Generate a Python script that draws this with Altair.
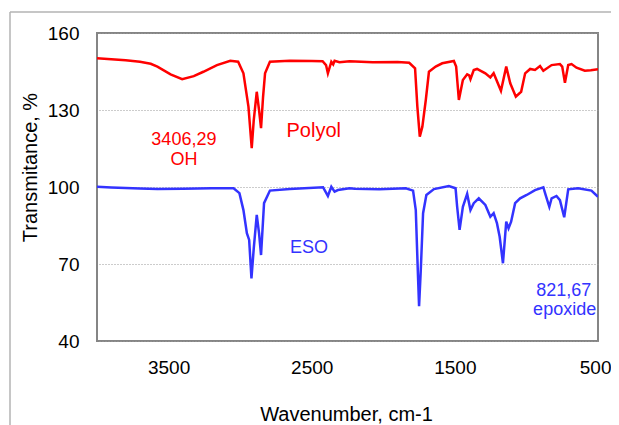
import altair as alt
import pandas as pd

# ---- data ----
polyol_wn = [4000, 3900, 3800, 3700, 3625, 3578, 3486, 3405, 3324, 3257, 3162, 3069, 3014, 2977,
             2942, 2919, 2905, 2884, 2868, 2854, 2840, 2826, 2792, 2653, 2500, 2424, 2400, 2387,
             2363, 2350, 2340, 2306, 2236, 2074, 1900, 1819, 1778, 1762, 1745, 1727, 1703, 1681,
             1634, 1588, 1507, 1491, 1472, 1444, 1414, 1400, 1391, 1368, 1345, 1287, 1252, 1229,
             1178, 1141, 1113, 1074, 1037, 1009, 974, 940, 905, 882, 824, 766, 750, 731, 708, 685,
             650, 592, 550, 500]
polyol_t = [150.2, 149.8, 149.4, 148.8, 148.0, 146.9, 143.9, 142.0, 143.2, 144.9, 147.5, 149.2, 148.8, 144.3,
            131.3, 115.1, 126.0, 137.1, 130.0, 122.9, 135.0, 144.3, 148.8, 149.2, 149.1, 149.0, 147.5, 144.3,
            148.8, 147.8, 149.2, 148.6, 149.0, 148.6, 148.7, 148.4, 146.2, 131.3, 119.6, 123.5, 133.9, 144.9,
            146.9, 148.2, 149.1, 146.9, 133.9, 141.7, 143.9, 143.5, 142.0, 145.6, 146.0, 144.3, 142.7, 144.3,
            137.5, 146.9, 140.4, 135.2, 137.1, 144.3, 146.0, 145.6, 147.1, 145.3, 147.5, 147.9, 146.9, 140.6, 147.5, 147.9,
            146.5, 145.3, 145.5, 145.9]

eso_wn = [4000, 3900, 3800, 3700, 3578, 3400, 3200, 3046, 3005, 2977, 2953, 2937, 2921, 2905, 2884,
          2868, 2854, 2833, 2792, 2653, 2421, 2387, 2363, 2340, 2317, 2236, 2200, 2028, 1843, 1792,
          1773, 1759, 1750, 1738, 1722, 1699, 1646, 1542, 1495, 1484, 1467, 1444, 1414, 1391, 1368,
          1333, 1287, 1252, 1229, 1206, 1187, 1164, 1141, 1125, 1107, 1079, 1044, 998, 940, 882,
          866, 840, 824, 790, 766, 736, 708, 639, 546, 500]
eso_t = [100.1, 99.8, 99.6, 99.4, 99.2, 99.3, 99.5, 99.5, 97.6, 91.0, 82.0, 79.4, 64.4, 76.0, 89.1,
         82.0, 73.5, 93.7, 98.6, 99.2, 99.9, 96.5, 100.1, 98.2, 98.8, 99.5, 99.3, 99.1, 99.5, 98.6,
         91.0, 67.7, 53.6, 67.7, 89.8, 96.9, 99.2, 100.4, 99.5, 92.3, 83.3, 92.3, 97.3, 91.0, 93.7,
         95.6, 93.0, 88.4, 89.8, 85.9, 80.6, 70.3, 86.5, 83.9, 86.5, 93.7, 95.6, 96.9, 98.8, 99.9,
         96.9, 92.3, 95.6, 96.5, 94.9, 88.2, 99.1, 99.5, 98.6, 96.2]

x_ticks = [3500, 2500, 1500, 500]
y_ticks = [40, 70, 100, 130, 160]

# annotation anchors in data coordinates
red_notes = ["3406,29", "OH"]
red_notes_wn = [3393, 3393]
red_notes_t = [116.4, 108.6]
polyol_label = ["Polyol"]
polyol_label_wn = [2486]
polyol_label_t = [119.6]
blue_notes = ["ESO", "821,67", "epoxide"]
blue_notes_wn = [2519, 739, 733]
blue_notes_t = [74.4, 57.5, 50.1]

FONT = "Liberation Sans"
RED = "#FF0000"
BLUE = "#3333FF"

df = pd.concat([
    pd.DataFrame({"wn": polyol_wn, "t": polyol_t, "s": "Polyol"}),
    pd.DataFrame({"wn": eso_wn, "t": eso_t, "s": "ESO"}),
])

x_enc = alt.X("wn:Q",
              scale=alt.Scale(domain=[500, 4000], reverse=True, nice=False, zero=False),
              axis=alt.Axis(values=x_ticks, format="d", title="Wavenumber, cm-1", ticks=False,
                            domain=False, grid=False, labelPadding=17, labelFontSize=19,
                            labelFont=FONT, labelColor="black", titleFont=FONT, titleFontSize=20,
                            titleFontWeight="normal", titleColor="black", titleX=249, titleY=79,
                            titleBaseline="alphabetic", titleAlign="center", labelFlush=False,
                            labelOverlap=False,
                            labelAlign={"condition": {"test": "datum.value == 500", "value": "right"},
                                        "value": "center"},
                            labelOffset={"condition": {"test": "datum.value == 500", "value": 13},
                                         "value": 0}))
y_enc = alt.Y("t:Q",
              scale=alt.Scale(domain=[40, 160], nice=False, zero=False),
              axis=alt.Axis(values=y_ticks, format="d", title="Transmitance, %", ticks=False,
                            domain=False, grid=True, gridDash=[1, 2], gridColor="#999999",
                            gridWidth=1, labelPadding=18, labelFontSize=19, labelFont=FONT,
                            labelColor="black", titleFont=FONT, titleFontSize=20,
                            titleFontWeight="normal", titleColor="black", titleX=-61, titleY=134,
                            titleBaseline="alphabetic", titleAlign="center", labelFlush=False,
                            labelOverlap=False))

lines = alt.Chart(df).mark_line(strokeWidth=2.5, clip=True).encode(
    x=x_enc, y=y_enc,
    color=alt.Color("s:N", scale=alt.Scale(domain=["Polyol", "ESO"], range=[RED, BLUE]), legend=None),
    detail="s:N",
)


def notes(labels, wns, ts, color, size):
    d = pd.DataFrame({"label": labels, "wn": wns, "t": ts})
    return alt.Chart(d).mark_text(font=FONT, fontSize=size, color=color, align="center",
                                  baseline="alphabetic").encode(x=x_enc, y=y_enc, text="label:N")


one = pd.DataFrame({"a": [0]})
border_v = alt.Chart(one).mark_rule(color="#b3b3b3", strokeWidth=1.5).encode(
    x=alt.value(-87), y=alt.value(-21), y2=alt.value(400))
border_h = alt.Chart(one).mark_rule(color="#b3b3b3", strokeWidth=1.5).encode(
    x=alt.value(-87), x2=alt.value(520), y=alt.value(-21))

chart = alt.layer(
    border_v, border_h, lines,
    notes(red_notes, red_notes_wn, red_notes_t, RED, 18),
    notes(polyol_label, polyol_label_wn, polyol_label_t, RED, 20),
    notes(blue_notes, blue_notes_wn, blue_notes_t, BLUE, 18),
).properties(
    width=501, height=308,
    autosize=alt.AutoSizeParams(type="none"),
    padding={"left": 89, "top": 25, "right": 13, "bottom": 84},
    background="white",
).configure_view(stroke="#858585", strokeWidth=2)

chart.save("out.html", embed_options={"renderer": "svg", "actions": False})
